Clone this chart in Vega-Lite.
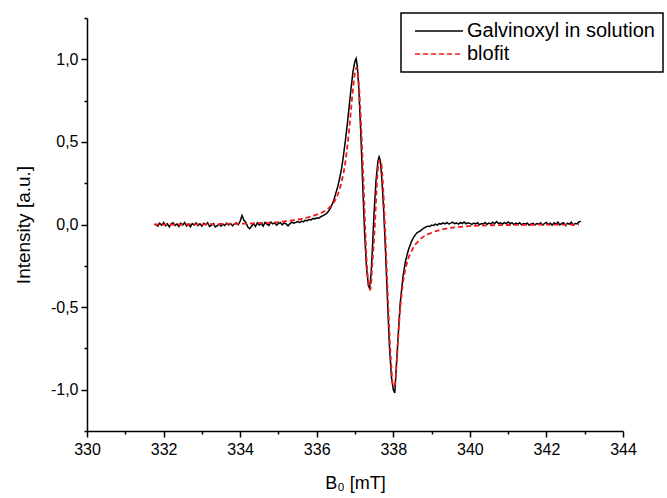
{
  "$schema": "https://vega.github.io/schema/vega-lite/v6.json",
  "width": 536,
  "height": 413,
  "autosize": {"type": "none"},
  "padding": {"left": 87, "top": 18, "right": 44, "bottom": 67},
  "background": "white",
  "config": {
    "view": {"stroke": null},
    "font": "Liberation Sans",
    "axis": {
      "domainColor": "black", "domainWidth": 1.5, "tickColor": "black", "tickWidth": 1.5,
      "labelColor": "black", "titleColor": "black", "labelFont": "Liberation Sans", "titleFont": "Liberation Sans",
      "labelFontSize": 16, "titleFontWeight": "normal", "grid": false
    },
    "legend": {
      "orient": "none", "legendX": 314, "legendY": -5, "strokeColor": "black", "fillColor": "white",
      "strokeWidth": 1.5, "padding": 8, "labelFontSize": 20, "labelFont": "Liberation Sans", "labelColor": "black",
      "symbolType": "M-4,0H4", "symbolSize": 144, "symbolOffset": 20, "symbolStrokeWidth": 1.5,
      "rowPadding": 3, "labelOffset": 18, "labelLimit": 400
    }
  },
  "datasets": {
    "galv": [
      {"B":331.80,"I":0.000},{"B":331.85,"I":-0.010},{"B":331.90,"I":0.008},{"B":331.95,"I":-0.005},{"B":332.00,"I":0.012},
      {"B":332.05,"I":-0.008},{"B":332.10,"I":0.004},{"B":332.15,"I":-0.015},{"B":332.20,"I":0.006},{"B":332.25,"I":0.010},
      {"B":332.30,"I":-0.006},{"B":332.35,"I":0.003},{"B":332.40,"I":-0.012},{"B":332.45,"I":0.008},{"B":332.50,"I":-0.004},
      {"B":332.55,"I":0.011},{"B":332.60,"I":-0.009},{"B":332.65,"I":0.002},{"B":332.70,"I":-0.014},{"B":332.75,"I":0.006},
      {"B":332.80,"I":-0.003},{"B":332.85,"I":0.009},{"B":332.90,"I":-0.007},{"B":332.95,"I":0.004},{"B":333.00,"I":-0.010},
      {"B":333.05,"I":0.007},{"B":333.10,"I":-0.002},{"B":333.15,"I":0.010},{"B":333.20,"I":-0.012},{"B":333.25,"I":-0.004},
      {"B":333.30,"I":0.005},{"B":333.35,"I":-0.015},{"B":333.40,"I":-0.008},{"B":333.45,"I":0.003},{"B":333.50,"I":-0.010},
      {"B":333.55,"I":0.002},{"B":333.60,"I":-0.006},{"B":333.65,"I":0.008},{"B":333.70,"I":-0.003},{"B":333.75,"I":0.006},
      {"B":333.80,"I":-0.008},{"B":333.85,"I":0.004},{"B":333.90,"I":0.010},{"B":333.95,"I":-0.002},{"B":334.00,"I":0.020},
      {"B":334.05,"I":0.055},{"B":334.10,"I":0.025},{"B":334.15,"I":0.012},{"B":334.20,"I":-0.015},{"B":334.25,"I":-0.025},
      {"B":334.30,"I":-0.010},{"B":334.35,"I":0.005},{"B":334.40,"I":-0.012},{"B":334.45,"I":0.010},{"B":334.50,"I":-0.004},
      {"B":334.55,"I":0.008},{"B":334.60,"I":-0.010},{"B":334.65,"I":0.012},{"B":334.70,"I":0.002},{"B":334.75,"I":-0.006},
      {"B":334.80,"I":0.015},{"B":334.85,"I":0.004},{"B":334.90,"I":0.010},{"B":334.95,"I":-0.004},{"B":335.00,"I":0.006},
      {"B":335.05,"I":0.012},{"B":335.10,"I":-0.002},{"B":335.15,"I":0.010},{"B":335.20,"I":0.004},{"B":335.25,"I":-0.008},
      {"B":335.30,"I":0.005},{"B":335.35,"I":0.014},{"B":335.40,"I":0.008},{"B":335.45,"I":0.012},{"B":335.50,"I":0.018},
      {"B":335.55,"I":0.012},{"B":335.60,"I":0.020},{"B":335.65,"I":0.016},{"B":335.70,"I":0.026},{"B":335.75,"I":0.022},
      {"B":335.80,"I":0.030},{"B":335.85,"I":0.028},{"B":335.90,"I":0.036},{"B":335.95,"I":0.034},{"B":336.00,"I":0.040},
      {"B":336.05,"I":0.038},{"B":336.10,"I":0.046},{"B":336.15,"I":0.052},{"B":336.20,"I":0.058},{"B":336.25,"I":0.065},
      {"B":336.30,"I":0.078},{"B":336.35,"I":0.095},{"B":336.40,"I":0.120},{"B":336.45,"I":0.150},{"B":336.50,"I":0.190},
      {"B":336.55,"I":0.230},{"B":336.60,"I":0.280},{"B":336.65,"I":0.340},{"B":336.70,"I":0.420},{"B":336.75,"I":0.510},
      {"B":336.80,"I":0.610},{"B":336.85,"I":0.720},{"B":336.90,"I":0.830},{"B":336.95,"I":0.930},{"B":337.00,"I":0.990},
      {"B":337.03,"I":1.005},{"B":337.06,"I":0.960},{"B":337.10,"I":0.820},{"B":337.15,"I":0.560},{"B":337.20,"I":0.250},
      {"B":337.25,"I":-0.050},{"B":337.30,"I":-0.260},{"B":337.35,"I":-0.370},{"B":337.38,"I":-0.385},{"B":337.42,"I":-0.300},
      {"B":337.46,"I":-0.120},{"B":337.50,"I":0.080},{"B":337.55,"I":0.270},{"B":337.60,"I":0.385},{"B":337.63,"I":0.410},
      {"B":337.66,"I":0.390},{"B":337.70,"I":0.280},{"B":337.75,"I":0.080},{"B":337.80,"I":-0.180},{"B":337.85,"I":-0.470},
      {"B":337.90,"I":-0.740},{"B":337.95,"I":-0.920},{"B":338.00,"I":-1.000},{"B":338.04,"I":-1.020},{"B":338.07,"I":-0.900},
      {"B":338.12,"I":-0.700},{"B":338.18,"I":-0.480},{"B":338.25,"I":-0.320},{"B":338.32,"I":-0.220},{"B":338.40,"I":-0.150},
      {"B":338.48,"I":-0.100},{"B":338.55,"I":-0.070},{"B":338.62,"I":-0.050},{"B":338.70,"I":-0.040},{"B":338.75,"I":-0.030},
      {"B":338.80,"I":-0.022},{"B":338.85,"I":-0.015},{"B":338.90,"I":-0.010},{"B":338.95,"I":-0.012},{"B":339.00,"I":-0.004},
      {"B":339.05,"I":-0.006},{"B":339.10,"I":0.002},{"B":339.15,"I":-0.004},{"B":339.20,"I":0.006},{"B":339.25,"I":0.002},
      {"B":339.30,"I":0.010},{"B":339.35,"I":0.004},{"B":339.40,"I":0.012},{"B":339.45,"I":0.003},{"B":339.50,"I":0.008},
      {"B":339.55,"I":0.014},{"B":339.60,"I":0.005},{"B":339.65,"I":0.010},{"B":339.70,"I":0.002},{"B":339.75,"I":0.012},
      {"B":339.80,"I":0.006},{"B":339.85,"I":0.015},{"B":339.90,"I":0.004},{"B":339.95,"I":0.010},{"B":340.00,"I":0.007},
      {"B":340.05,"I":0.000},{"B":340.10,"I":0.008},{"B":340.15,"I":0.003},{"B":340.20,"I":0.011},{"B":340.25,"I":-0.002},
      {"B":340.30,"I":0.006},{"B":340.35,"I":0.004},{"B":340.40,"I":0.012},{"B":340.45,"I":0.001},{"B":340.50,"I":0.009},
      {"B":340.55,"I":0.003},{"B":340.60,"I":0.014},{"B":340.65,"I":0.005},{"B":340.70,"I":0.018},{"B":340.75,"I":0.006},
      {"B":340.80,"I":0.010},{"B":340.85,"I":0.002},{"B":340.90,"I":0.012},{"B":340.95,"I":0.004},{"B":341.00,"I":0.016},
      {"B":341.05,"I":0.006},{"B":341.10,"I":0.010},{"B":341.15,"I":0.000},{"B":341.20,"I":0.008},{"B":341.25,"I":0.002},
      {"B":341.30,"I":0.010},{"B":341.35,"I":-0.002},{"B":341.40,"I":0.006},{"B":341.45,"I":0.003},{"B":341.50,"I":0.008},
      {"B":341.55,"I":-0.004},{"B":341.60,"I":0.004},{"B":341.65,"I":0.007},{"B":341.70,"I":-0.002},{"B":341.75,"I":0.006},
      {"B":341.80,"I":0.002},{"B":341.85,"I":0.010},{"B":341.90,"I":-0.004},{"B":341.95,"I":0.006},{"B":342.00,"I":0.012},
      {"B":342.05,"I":0.000},{"B":342.10,"I":0.008},{"B":342.15,"I":-0.004},{"B":342.20,"I":0.010},{"B":342.25,"I":0.002},
      {"B":342.30,"I":0.014},{"B":342.35,"I":-0.002},{"B":342.40,"I":0.006},{"B":342.45,"I":0.010},{"B":342.50,"I":-0.006},
      {"B":342.55,"I":0.008},{"B":342.60,"I":0.002},{"B":342.65,"I":0.014},{"B":342.70,"I":-0.004},{"B":342.75,"I":0.006},
      {"B":342.80,"I":0.004},{"B":342.85,"I":0.016},{"B":342.90,"I":0.020}
    ],
    "fit": [
      {"B":331.75,"I":0.0},{"B":332.5,"I":0.0},{"B":333.5,"I":0.003},{"B":334.5,"I":0.008},{"B":335.0,"I":0.015},
      {"B":335.5,"I":0.030},{"B":335.8,"I":0.045},{"B":336.0,"I":0.060},{"B":336.2,"I":0.080},{"B":336.4,"I":0.120},
      {"B":336.55,"I":0.180},{"B":336.65,"I":0.260},{"B":336.75,"I":0.380},{"B":336.85,"I":0.580},{"B":336.93,"I":0.780},
      {"B":337.0,"I":0.920},{"B":337.04,"I":0.950},{"B":337.1,"I":0.850},{"B":337.17,"I":0.550},{"B":337.24,"I":0.150},
      {"B":337.3,"I":-0.200},{"B":337.36,"I":-0.370},{"B":337.4,"I":-0.395},{"B":337.45,"I":-0.250},{"B":337.52,"I":0.000},
      {"B":337.58,"I":0.280},{"B":337.64,"I":0.390},{"B":337.68,"I":0.380},{"B":337.74,"I":0.200},{"B":337.8,"I":-0.100},
      {"B":337.87,"I":-0.500},{"B":337.94,"I":-0.830},{"B":338.0,"I":-0.980},{"B":338.04,"I":-0.970},{"B":338.1,"I":-0.790},
      {"B":338.17,"I":-0.540},{"B":338.25,"I":-0.360},{"B":338.35,"I":-0.240},{"B":338.5,"I":-0.150},{"B":338.7,"I":-0.090},
      {"B":339.0,"I":-0.050},{"B":339.3,"I":-0.028},{"B":339.7,"I":-0.015},{"B":340.2,"I":-0.007},{"B":341.0,"I":-0.003},
      {"B":342.0,"I":-0.001},{"B":342.85,"I":0.0}
    ]
  },
  "encoding": {
    "x": {
      "field": "B", "type": "quantitative",
      "scale": {"domain": [330, 344], "nice": false, "zero": false},
      "axis": {
        "title": "B₀ [mT]", "titleFontSize": 18, "values": [330,331,332,333,334,335,336,337,338,339,340,341,342,343,344],
        "labelExpr": "datum.value % 2 === 0 ? datum.label : ''",
        "tickSize": {"condition": {"test": "datum.value % 2 !== 0", "value": 3}, "value": 6},
        "labelPadding": 4, "titlePadding": 17, "labelFlush": false
      }
    },
    "y": {
      "field": "I", "type": "quantitative",
      "scale": {"domain": [-1.25, 1.25], "nice": false, "zero": false},
      "axis": {
        "title": "Intensity [a.u.]", "titleFontSize": 19,
        "values": [-1.25,-1,-0.75,-0.5,-0.25,0,0.25,0.5,0.75,1,1.25],
        "labelExpr": "abs(round(datum.value*4)) % 2 === 1 ? '' : replace(replace(format(datum.value, '.1f'), '.', ','), '\u2212', '-')",
        "tickSize": {"condition": {"test": "abs(round(datum.value*4)) % 2 === 1", "value": 3}, "value": 6},
        "labelPadding": 3, "titlePadding": 17, "labelFlush": false
      }
    }
  },
  "layer": [
    {
      "data": {"name": "galv"},
      "mark": {"type": "line", "strokeWidth": 1.5, "interpolate": "linear"},
      "encoding": {
        "color": {"datum": "Galvinoxyl in solution", "type": "nominal",
          "scale": {"domain": ["Galvinoxyl in solution", "blofit"], "range": ["black", "#ee1c1c"]},
          "legend": {"title": null}},
        "strokeDash": {"datum": "Galvinoxyl in solution", "type": "nominal",
          "scale": {"domain": ["Galvinoxyl in solution", "blofit"], "range": [[1, 0], [5, 3]]},
          "legend": {"title": null}}
      }
    },
    {
      "data": {"name": "fit"},
      "mark": {"type": "line", "strokeWidth": 1.8, "interpolate": "monotone"},
      "encoding": {
        "color": {"datum": "blofit", "type": "nominal"},
        "strokeDash": {"datum": "blofit", "type": "nominal"}
      }
    }
  ]
}
